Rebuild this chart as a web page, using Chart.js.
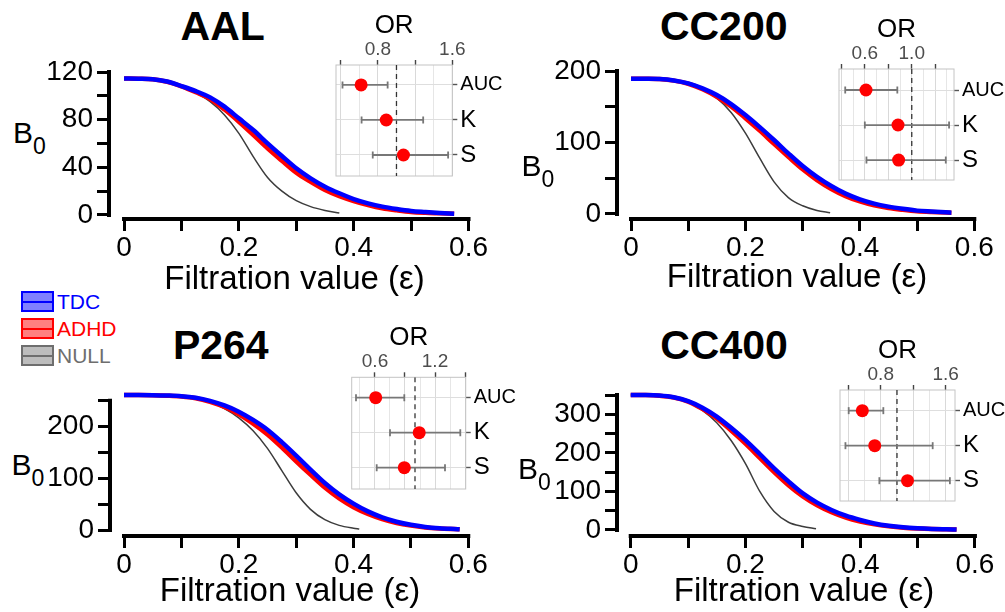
<!DOCTYPE html>
<html>
<head>
<meta charset="utf-8">
<script src="https://cdn.jsdelivr.net/npm/chart.js"></script>
<style>
  html, body { margin: 0; padding: 0; background: #fff; }
  body { width: 1005px; height: 612px; position: relative; overflow: hidden;
         font-family: "Liberation Sans", Arial, sans-serif; }
  canvas { position: absolute; }
  .title { position: absolute; font-weight: bold; font-size: 41px; line-height: 1;
           transform: translate(-50%, -50%); white-space: nowrap; }
  .b0 { position: absolute; font-size: 30px; line-height: 1; transform: translateY(-50%); white-space: nowrap; }
  .b0 span { font-size: 23px; position: relative; top: 11px; }
  .legend { position: absolute; left: 21px; top: 291px; }
  .legend .item { position: relative; height: 27px; font-size: 21px; line-height: 21px; white-space: nowrap; }
  .legend .box { position: absolute; left: 0; top: 0; width: 33px; height: 21px; box-sizing: border-box; border: 2px solid; }
  .legend .box i { position: absolute; left: 0; right: 0; top: 8px; height: 1.5px; }
  .legend .txt { position: absolute; left: 36px; top: 0; }
</style>
</head>
<body>
<div class="legend" id="legend"></div>
<script>
// ---- data ----
const groups     = ['TDC', 'ADHD', 'NULL'];
const groupLine  = ['#0000ff', '#ff0000', '#3c3c3c'];
const groupEdge  = ['#0000ff', '#ff0000', '#6e6e6e'];
const groupFill  = ['#8080ff', '#ff8080', '#bdbdbd'];
const groupText  = ['#0000ff', '#ff0000', '#6e6e6e'];

const epsTicks      = [0, 0.1, 0.2, 0.3, 0.4, 0.5, 0.6];
const epsTickLabels = ['0', '', '0.2', '', '0.4', '', '0.6'];
const orRows  = ['AUC', 'K', 'S'];
const OR_NULL = 1;

// AAL
const aalEps  = [0, .025, .05, .075, .1, .125, .15, .175, .2, .225, .25, .275, .3, .325, .35, .375, .4, .425, .45, .475, .5, .525, .55, .575];
const aalTdc  = [114.5, 114.4, 114.0, 112.0, 108.2, 104.0, 98.7, 90.9, 81.1, 71.3, 60.1, 49.5, 39.2, 30.8, 23.8, 18.2, 13.4, 9.8, 7.0, 5.0, 3.4, 2.5, 1.7, 1.1];
const aalAdhd = [114.5, 114.4, 114.0, 111.8, 108.0, 103.0, 97.3, 88.5, 78.3, 67.3, 55.9, 45.5, 35.5, 27.8, 21.0, 15.8, 11.7, 8.3, 5.6, 3.9, 2.5, 1.8, 1.4, 1.0];
const aalNullEps = [0, .025, .05, .075, .1, .125, .15, .175, .2, .225, .25, .275, .3, .325, .35, .375];
const aalNull    = [114.5, 114.4, 114.0, 111.5, 107.7, 102.5, 95.1, 84.0, 68.5, 49.0, 31.5, 20.0, 12.0, 7.0, 3.8, 1.6];
const aalYTicks  = [0, 20, 40, 60, 80, 100, 120];
const aalYLabels = ['0', '', '40', '', '80', '', '120'];
const aalOr   = [0.62, 0.89, 1.075];
const aalOrLo = [0.42, 0.625, 0.745];
const aalOrHi = [0.905, 1.287, 1.555];
const aalOrGrid  = [0.4, 0.6, 0.8, 1.0, 1.2, 1.4, 1.6];
const aalOrTicks = [0.4, 0.8, 1.2, 1.6];
const aalOrTickLabels = ['', '0.8', '', '1.6'];

// CC200
const cc200Eps  = [0, .025, .05, .075, .1, .125, .15, .175, .2, .225, .25, .275, .3, .325, .35, .375, .4, .425, .45, .475, .5, .525, .55, .56];
const cc200Tdc  = [189.3, 189.2, 188.8, 186.8, 182.7, 175.8, 166.4, 153.8, 138.4, 121.5, 103.5, 84.8, 67.1, 52.0, 39.2, 28.5, 20.5, 14.5, 10.3, 7.2, 4.7, 3.4, 2.3, 1.9];
const cc200Adhd = [189.3, 189.2, 188.7, 186.5, 182.2, 174.5, 164.0, 150.5, 134.0, 116.5, 98.0, 80.0, 62.5, 47.5, 35.0, 25.0, 17.5, 12.0, 8.3, 5.8, 3.8, 2.7, 2.0, 1.8];
const cc200NullEps = [0, .025, .05, .075, .1, .125, .15, .175, .2, .225, .25, .275, .3, .325, .348];
const cc200Null    = [189.3, 189.2, 188.5, 186.3, 182.0, 174.5, 162.0, 142.0, 113.0, 78.0, 45.0, 23.0, 11.5, 5.0, 1.8];
const cc200YTicks  = [0, 50, 100, 150, 200];
const cc200YLabels = ['0', '', '100', '', '200'];
const cc200Or   = [0.61, 0.883, 0.888];
const cc200OrLo = [0.433, 0.6, 0.614];
const cc200OrHi = [0.877, 1.318, 1.29];
const cc200OrGrid  = [0.4, 0.5, 0.6, 0.7, 0.8, 0.9, 1.0, 1.1, 1.2, 1.3];
const cc200OrTicks = [0.4, 0.6, 0.8, 1.0, 1.2];
const cc200OrTickLabels = ['', '0.6', '', '1.0', ''];

// P264
const p264Eps  = [0, .025, .05, .075, .1, .125, .15, .175, .2, .225, .25, .275, .3, .325, .35, .375, .4, .425, .45, .475, .5, .525, .55, .575, .585];
const p264Tdc  = [261, 261, 260.8, 260.2, 259, 256, 250, 241, 229, 213, 194, 170, 144, 117, 91, 69, 51, 36, 24.5, 16, 10, 6, 3.5, 2, 1.5];
const p264Adhd = [261, 261, 260.8, 260.0, 258.5, 255, 248, 238, 224, 206, 185, 160, 133, 107, 82, 61, 44, 31, 21, 13.5, 8.5, 5, 3, 1.8, 1.4];
const p264NullEps = [0, .025, .05, .075, .1, .125, .15, .175, .2, .225, .25, .275, .3, .325, .35, .375, .4, .41];
const p264Null    = [261, 261, 260.7, 259.8, 258, 255, 247, 235, 217, 192, 158, 115, 72, 40, 20, 9, 3.5, 2];
const p264YTicks  = [0, 50, 100, 150, 200, 250];
const p264YLabels = ['0', '', '100', '', '200', ''];
const p264Or   = [0.607, 1.042, 0.893];
const p264OrLo = [0.41, 0.75, 0.617];
const p264OrHi = [0.893, 1.453, 1.3];
const p264OrGrid  = [0.45, 0.6, 0.75, 0.9, 1.05, 1.2, 1.35, 1.5];
const p264OrTicks = [0.6, 0.9, 1.2, 1.5];
const p264OrTickLabels = ['0.6', '', '1.2', ''];

// CC400
const cc400Eps  = [0, .025, .05, .075, .1, .125, .15, .175, .2, .225, .25, .275, .3, .325, .35, .375, .4, .425, .45, .475, .5, .525, .55, .568];
const cc400Tdc  = [350, 349.8, 348.5, 344, 334, 317, 294, 265, 233, 197, 160, 126, 95, 71, 52, 37, 26, 17, 11, 7, 4.5, 2.8, 1.8, 1.2];
const cc400Adhd = [350, 349.8, 348.3, 343.5, 333, 314, 289, 258, 224, 187, 150, 116, 87, 64, 46, 32, 22, 14.5, 9.5, 6, 3.8, 2.4, 1.6, 1.1];
const cc400NullEps = [0, .025, .05, .075, .1, .125, .15, .175, .2, .225, .25, .275, .3, .323];
const cc400Null    = [350, 349.8, 348, 342, 332, 310, 278, 232, 172, 100, 48, 20, 9, 3];
const cc400YTicks  = [0, 50, 100, 150, 200, 250, 300, 350];
const cc400YLabels = ['0', '', '100', '', '200', '', '300', ''];
const cc400Or   = [0.573, 0.726, 1.13];
const cc400OrLo = [0.405, 0.365, 0.783];
const cc400OrHi = [0.832, 1.44, 1.652];
const cc400OrGrid  = [0.4, 0.6, 0.8, 1.0, 1.2, 1.4, 1.6];
const cc400OrTicks = [0.4, 0.8, 1.2, 1.6];
const cc400OrTickLabels = ['', '0.8', '', '1.6'];

// ---- panels: data + layout ----
const panels = [
  { name: 'AAL', eps: aalEps, tdc: aalTdc, adhd: aalAdhd, nullEps: aalNullEps, nul: aalNull,
    yTicks: aalYTicks, yLabels: aalYLabels,
    or: aalOr, orLo: aalOrLo, orHi: aalOrHi, orGrid: aalOrGrid, orTicks: aalOrTicks, orTickLabels: aalOrTickLabels,
    main: { canvas: [0, 48, 500, 252], L: 109, R: 480, T: 72, B: 219, xMin: -0.0262, xMax: 0.620, yMin: -3.36, yMax: 120, titlePadB: 0.5 },
    box:  { L: 336, R: 452.3, T: 65, B: 176, right: 516, xMin: 0.35, xMax: 1.6, yMin: 0.43, yMax: 3.6 },
    title: [222.7, 25.8], b0: [13, 132.5] },
  { name: 'CC200', eps: cc200Eps, tdc: cc200Tdc, adhd: cc200Adhd, nullEps: cc200NullEps, nul: cc200Null,
    yTicks: cc200YTicks, yLabels: cc200YLabels,
    or: cc200Or, orLo: cc200OrLo, orHi: cc200OrHi, orGrid: cc200OrGrid, orTicks: cc200OrTicks, orTickLabels: cc200OrTickLabels,
    main: { canvas: [505, 47, 495, 253], L: 617, R: 977, T: 71, B: 219, xMin: -0.0245, xMax: 0.6047, yMin: -7.0, yMax: 200, titlePadB: 2.2 },
    box:  { L: 839, R: 954, T: 69, B: 180, right: 1005, xMin: 0.38, xMax: 1.36, yMin: 0.4, yMax: 3.57 },
    title: [723.7, 25.5], b0: [521.5, 165.5] },
  { name: 'P264', eps: p264Eps, tdc: p264Tdc, adhd: p264Adhd, nullEps: p264NullEps, nul: p264Null,
    yTicks: p264YTicks, yLabels: p264YLabels,
    or: p264Or, orLo: p264OrLo, orHi: p264OrHi, orGrid: p264OrGrid, orTicks: p264OrTicks, orTickLabels: p264OrTickLabels,
    main: { canvas: [0, 369, 500, 243], L: 110, R: 470, T: 393, B: 536, xMin: -0.0244, xMax: 0.603, yMin: -11.6, yMax: 265.1, titlePadB: 0.5 },
    box:  { L: 351.7, R: 465.7, T: 377.3, B: 489, right: 530, xMin: 0.367, xMax: 1.507, yMin: 0.417, yMax: 3.61 },
    title: [220.8, 345], b0: [11.5, 464.5] },
  { name: 'CC400', eps: cc400Eps, tdc: cc400Tdc, adhd: cc400Adhd, nullEps: cc400NullEps, nul: cc400Null,
    yTicks: cc400YTicks, yLabels: cc400YLabels,
    or: cc400Or, orLo: cc400OrLo, orHi: cc400OrHi, orGrid: cc400OrGrid, orTicks: cc400OrTicks, orTickLabels: cc400OrTickLabels,
    main: { canvas: [505, 369, 495, 243], L: 617, R: 991, T: 393, B: 536, xMin: -0.0239, xMax: 0.628, yMin: -15.6, yMax: 355.2, titlePadB: 0 },
    box:  { L: 840, R: 955, T: 390, B: 501, right: 1005, xMin: 0.298, xMax: 1.715, yMin: 0.41, yMax: 3.58 },
    title: [724, 345], b0: [518, 469] },
];

Chart.defaults.font.family = '"Liberation Sans", Arial, sans-serif';
Chart.defaults.color = '#000';

function pts(xs, ys) { return ys.map((y, i) => ({ x: xs[i], y })); }

function tickLabel(vals, labels) {
  return v => {
    const i = vals.findIndex(t => Math.abs(t - v) < 1e-9);
    return i < 0 ? '' : labels[i];
  };
}

function makeCanvas(left, top, w, h) {
  const c = document.createElement('canvas');
  c.width = w; c.height = h;
  c.style.left = left + 'px'; c.style.top = top + 'px';
  c.style.width = w + 'px'; c.style.height = h + 'px';
  document.body.appendChild(c);
  return c;
}

/** Prism-style detached axis lines, from first to last tick */
const axisLinesPlugin = {
  id: 'axisLines',
  afterDraw(chart) {
    const { ctx } = chart;
    const x = chart.scales.x, y = chart.scales.y;
    const xt = x.ticks, yt = y.ticks;
    ctx.save();
    ctx.strokeStyle = '#000';
    ctx.lineWidth = 4;
    ctx.lineCap = 'square';
    ctx.beginPath();
    ctx.moveTo(x.getPixelForValue(xt[0].value), x.top);
    ctx.lineTo(x.getPixelForValue(xt[xt.length - 1].value), x.top);
    ctx.moveTo(y.right, y.getPixelForValue(yt[0].value));
    ctx.lineTo(y.right, y.getPixelForValue(yt[yt.length - 1].value));
    ctx.stroke();
    ctx.restore();
  }
};

/** light grey frame round the OR inset */
const panelBoxPlugin = {
  id: 'panelBox',
  beforeDatasetsDraw(chart) {
    const { ctx, chartArea: a } = chart;
    ctx.save();
    ctx.strokeStyle = '#c4c4c4';
    ctx.lineWidth = 1;
    ctx.strokeRect(a.left, a.top, a.right - a.left, a.bottom - a.top);
    ctx.restore();
  }
};

function drawMain(p) {
  const g = p.main;
  const [left, top, w, h] = g.canvas;
  const c = makeCanvas(left, top, w, h);
  new Chart(c, {
    type: 'line',
    data: {
      datasets: [
        { label: groups[0], data: pts(p.eps, p.tdc), borderColor: groupLine[0], borderWidth: 4.5 },
        { label: groups[1], data: pts(p.eps, p.adhd), borderColor: groupLine[1], borderWidth: 4.5 },
        { label: groups[2], data: pts(p.nullEps, p.nul), borderColor: groupLine[2], borderWidth: 1.5 },
      ],
    },
    options: {
      responsive: false,
      animation: false,
      events: [],
      layout: { padding: { left: 0, top: g.T - top, right: left + w - g.R, bottom: 0 } },
      datasets: { line: { pointRadius: 0, clip: false, cubicInterpolationMode: 'monotone', fill: false } },
      plugins: { legend: { display: false }, tooltip: { enabled: false } },
      scales: {
        x: {
          type: 'linear', min: g.xMin, max: g.xMax,
          afterBuildTicks: s => { s.ticks = epsTicks.map(v => ({ value: v })); },
          afterFit: s => { s.height = top + h - g.B; },
          border: { display: false },
          grid: { drawOnChartArea: false, tickLength: 12, tickWidth: 3, tickColor: '#000' },
          ticks: { callback: tickLabel(epsTicks, epsTickLabels), autoSkip: false, maxRotation: 0,
                   padding: 0, color: '#000', font: { size: 28 } },
          title: { display: true, text: 'Filtration value (ε)', color: '#000', font: { size: 33 },
                   padding: { top: 0, bottom: g.titlePadB } },
        },
        y: {
          type: 'linear', min: g.yMin, max: g.yMax,
          afterBuildTicks: s => { s.ticks = p.yTicks.map(v => ({ value: v })); },
          afterFit: s => { s.width = g.L - left; },
          border: { display: false },
          grid: { drawOnChartArea: false, tickLength: 12, tickWidth: 3, tickColor: '#000' },
          ticks: { callback: tickLabel(p.yTicks, p.yLabels), autoSkip: false, padding: 4,
                   color: '#000', font: { size: 28 } },
        },
      },
    },
    plugins: [axisLinesPlugin],
  });
}

function drawForest(p) {
  const g = p.box;
  const axH = 54, axW = 50;
  const left = Math.floor(g.L) - 10, top = Math.floor(g.T) - axH;
  const w = g.right - left, h = Math.ceil(g.B) + 22 - top;
  const c = makeCanvas(left, top, w, h);
  const rows = orRows.map((_, i) => i + 1);
  const isTick = v => p.orTicks.some(t => Math.abs(t - v) < 1e-9);

  const bars = p.orLo.map((lo, i) => ({
    data: [{ x: lo, y: rows[i] }, { x: p.orHi[i], y: rows[i] }],
    showLine: true, borderColor: '#777', borderWidth: 1.8,
    pointStyle: 'line', pointRotation: 90, pointRadius: 3.5,
    pointBorderColor: '#777', pointBorderWidth: 1.8,
  }));

  new Chart(c, {
    type: 'scatter',
    data: {
      datasets: [
        { data: p.or.map((v, i) => ({ x: v, y: rows[i] })), pointRadius: 6.5,
          pointBackgroundColor: '#ff0000', pointBorderColor: '#ff0000', pointBorderWidth: 0 },
        ...bars,
        { data: [{ x: OR_NULL, y: g.yMin }, { x: OR_NULL, y: g.yMax }], showLine: true,
          borderColor: '#333', borderWidth: 1.3, borderDash: [5, 4], pointRadius: 0 },
      ],
    },
    options: {
      responsive: false,
      animation: false,
      events: [],
      layout: { padding: {
        left: g.L - left,
        top: g.T - top - axH,
        right: w - (g.L - left) - axW - (g.R - g.L),
        bottom: h - (g.B - top),
      } },
      plugins: { legend: { display: false }, tooltip: { enabled: false } },
      scales: {
        x: {
          type: 'linear', position: 'top', min: g.xMin, max: g.xMax,
          afterBuildTicks: s => { s.ticks = p.orGrid.map(v => ({ value: v })); },
          afterFit: s => { s.height = axH; },
          border: { display: false },
          grid: {
            color: ctx => isTick(ctx.tick.value) ? '#d9d9d9' : '#e6e6e6',
            tickColor: ctx => isTick(ctx.tick.value) ? '#444' : 'rgba(0,0,0,0)',
            tickLength: 5, tickWidth: 1.4, lineWidth: 1,
          },
          ticks: { callback: tickLabel(p.orTicks, p.orTickLabels), autoSkip: false, maxRotation: 0,
                   padding: 1, color: '#4d4d4d', font: { size: 19, lineHeight: 1 } },
          title: { display: true, text: 'OR', color: '#000', font: { size: 26, lineHeight: 1 },
                   padding: { top: 2, bottom: 0 } },
        },
        y: {
          type: 'linear', position: 'right', reverse: true, min: g.yMin, max: g.yMax,
          afterBuildTicks: s => { s.ticks = rows.map(v => ({ value: v })); },
          afterFit: s => { s.width = axW; },
          border: { display: false },
          grid: { color: '#dedede', tickColor: '#555', tickLength: 5, tickWidth: 1.4 },
          ticks: { callback: v => orRows[v - 1], autoSkip: false, padding: 3, color: '#000',
                   font: ctx => ({ size: ctx.tick && orRows[ctx.tick.value - 1].length > 1 ? 20 : 24 }) },
        },
      },
    },
    plugins: [panelBoxPlugin],
  });
}

function addText(p) {
  const t = document.createElement('div');
  t.className = 'title';
  t.textContent = p.name;
  t.style.left = p.title[0] + 'px';
  t.style.top = p.title[1] + 'px';
  document.body.appendChild(t);

  const b = document.createElement('div');
  b.className = 'b0';
  b.innerHTML = 'B<span>0</span>';
  b.style.left = p.b0[0] + 'px';
  b.style.top = p.b0[1] + 'px';
  document.body.appendChild(b);
}

function renderLegend() {
  document.getElementById('legend').innerHTML = groups.map((gName, i) =>
    `<div class="item">
      <span class="box" style="border-color:${groupEdge[i]};background:${groupFill[i]}">
        <i style="background:${groupEdge[i]}"></i></span>
      <span class="txt" style="color:${groupText[i]}">${gName}</span>
    </div>`).join('');
}

renderLegend();
panels.forEach(p => { addText(p); drawMain(p); drawForest(p); });
</script>
</body>
</html>
